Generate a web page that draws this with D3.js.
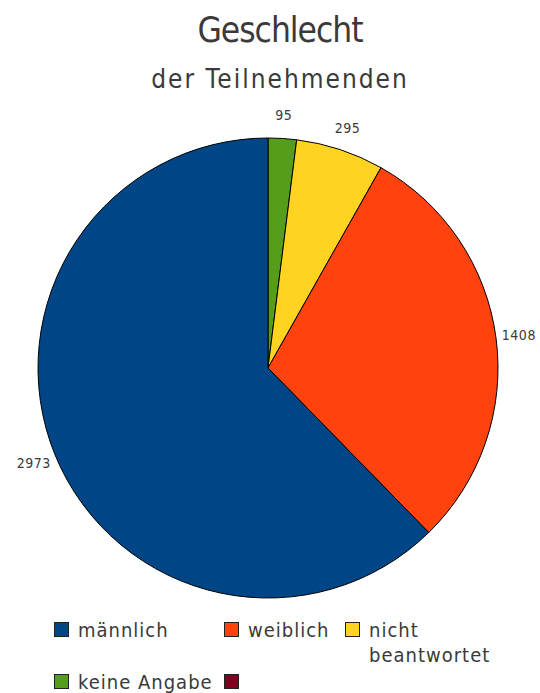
<!DOCTYPE html>
<html><head><meta charset="utf-8">
<script src="https://cdn.jsdelivr.net/npm/d3@7"></script>
<style>body{margin:0;background:#fff}svg{display:block;font-family:"DejaVu Sans Condensed","DejaVu Sans",sans-serif}</style>
</head><body>
<script>
const categories = ["keine Angabe","nicht beantwortet","weiblich","männlich"];
const values = [95, 295, 1408, 2973];
const colors = ["#579d1c","#ffd320","#ff420e","#004586"];
const legendItems = [["männlich"],["weiblich"],["nicht","beantwortet"],["keine Angabe"],[""]];
const legendColors = ["#004586","#ff420e","#ffd320","#579d1c","#7e0021"];

const W=540,H=693;
const svg=d3.select("body").append("svg").attr("width",W).attr("height",H);
svg.append("text").attr("x",280).attr("y",42).attr("text-anchor","middle")
  .attr("font-size",35).attr("letter-spacing",-1).attr("fill","#3a3a3a").text("Geschlecht");
svg.append("text").attr("x",280).attr("y",88).attr("text-anchor","middle")
  .attr("font-size",26).attr("letter-spacing",2).attr("fill","#3a3a3a").text("der Teilnehmenden");

const cx=268,cy=368,R=230;
const pie=d3.pie().sort(null)(values);
const arc=d3.arc().innerRadius(0).outerRadius(R);
const g=svg.append("g").attr("transform",`translate(${cx},${cy})`);
g.selectAll("path").data(pie).join("path").attr("d",arc)
  .attr("fill",(d,i)=>colors[i]).attr("stroke","#000").attr("stroke-width",1);
const larc=d3.arc().innerRadius(253).outerRadius(253);
g.selectAll("text").data(pie).join("text")
  .attr("transform",d=>`translate(${larc.centroid(d)})`)
  .attr("text-anchor","middle").attr("dy","0.35em")
  .attr("font-size",14).attr("letter-spacing",0.5).attr("fill","#3a3a3a").text(d=>d.value);

const pos=[[54,622],[224,622],[345,622],[54,674],[224,674]];
legendItems.forEach((lines,i)=>{
  const [x,y]=pos[i];
  svg.append("rect").attr("x",x+0.5).attr("y",y+0.5).attr("width",14).attr("height",14)
    .attr("fill",legendColors[i]).attr("stroke","#222");
  lines.forEach((t,j)=>svg.append("text").attr("x",x+24).attr("y",y+15+j*25)
    .attr("font-size",20).attr("letter-spacing",1).attr("fill","#3a3a3a").text(t));
});
</script>
</body></html>
